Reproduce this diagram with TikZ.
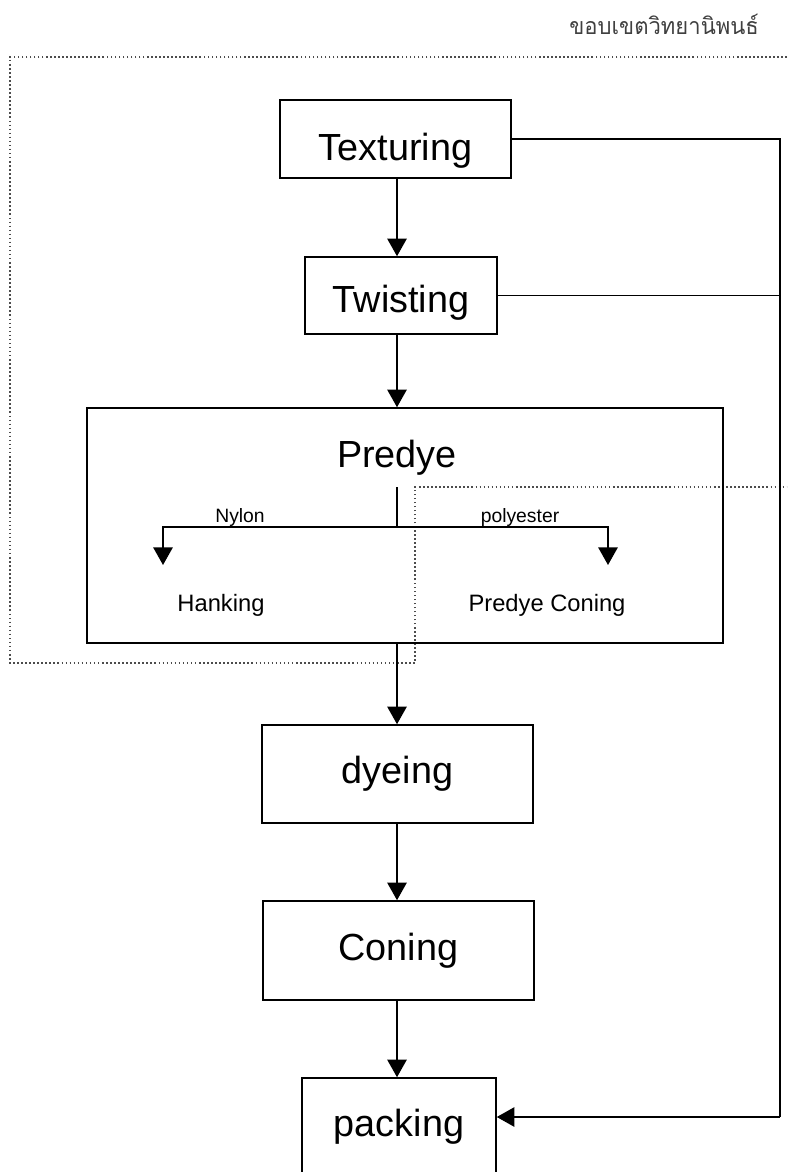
\documentclass[tikz,border=0pt]{standalone}
\usepackage{fontspec}
\setmainfont{Liberation Sans}
\newfontfamily\thaifont[Script=Thai]{Loma}
\usetikzlibrary{calc,positioning,arrows.meta}
\tikzset{
  big/.style={font=\fontsize{21.5}{24}\selectfont},
  stage/.style={draw, line width=0.9pt, inner sep=0pt, big},
  sub/.style={font=\fontsize{13.5}{16}\selectfont, anchor=base},
  tag/.style={font=\fontsize{11}{13}\selectfont, anchor=base},
  wire/.style={line width=0.9pt},
  flow/.style={line width=0.9pt, -{Triangle[width=11pt,length=10pt]}},
  boundary/.style={line width=0.9pt, gray!60!black, dash pattern=on 0.9pt off 1.4pt},
}

\begin{document}
\begin{tikzpicture}[x=0.02cm,y=-0.02cm]
\useasboundingbox (0,0) rectangle (787,1172);
\clip (0,0) rectangle (787,1172);

% thesis scope
\node[anchor=base east, text=black!75, font=\thaifont\fontsize{13.2}{16}\selectfont] (scopetitle) at (765,35) {\scalebox{0.95}[1]{ขอบเขตวิทยานิพนธ์}};
\draw[boundary] (787,57) -- (10,57) -- (10,663) -- (415,663) -- (415,487) -- (787,487);

% process steps
\node[stage, text height=29pt, minimum width=4.62cm, minimum height=1.56cm] (texturing) at (395.5,139) {Texturing};
\node[stage, text height=24pt, minimum width=3.84cm, minimum height=1.54cm] (twisting) at (401,295.5) {Twisting};
\node[draw, line width=0.9pt, minimum width=12.72cm, minimum height=4.7cm] (predyebox) at (405,525.5) {};
\node[big, anchor=base] (predye) at (397,467) {Predye};
\node[stage, minimum width=5.42cm, minimum height=1.96cm] (dyeing) at (397.5,774) {dyeing};
\node[stage, minimum width=5.42cm, minimum height=1.98cm] (coning) at (398.5,950.5) {Coning};
\node[stage, minimum width=3.88cm, minimum height=1.96cm] (packing) at (399,1127) {packing};

% predye split
\node[tag] (nylon) at (240,522) {Nylon};
\node[tag] (polyester) at (520,522) {polyester};
\node[sub] (hanking) at (221,611) {Hanking};
\node[sub] (predyeconing) at (547,611) {Predye Coning};
\coordinate (split) at (397,487);
\coordinate (fork) at (397,527);
\coordinate (nylonend) at (163,565);
\coordinate (polyend) at (608,565);
\draw[wire] (split) -- (fork);
\draw[flow] (fork) -| (nylonend);
\draw[flow] (fork) -| (polyend);

% main line
\coordinate (col) at (397,0);
\draw[flow] (col |- texturing.south) -- (col |- twisting.north);
\draw[flow] (col |- twisting.south) -- (col |- predyebox.north);
\draw[flow] (col |- predyebox.south) -- (col |- dyeing.north);
\draw[flow] (col |- dyeing.south) -- (col |- coning.north);
\draw[flow] (col |- coning.south) -- (col |- packing.north);

% bypass to packing
\coordinate (rail) at (780,1117);
\draw[wire] (texturing.east) -- (texturing.east -| rail) -- (rail);
\draw[wire] (twisting.east) -- (twisting.east -| rail);
\draw[flow] (rail) -- (rail -| packing.east);
\end{tikzpicture}
\end{document}
